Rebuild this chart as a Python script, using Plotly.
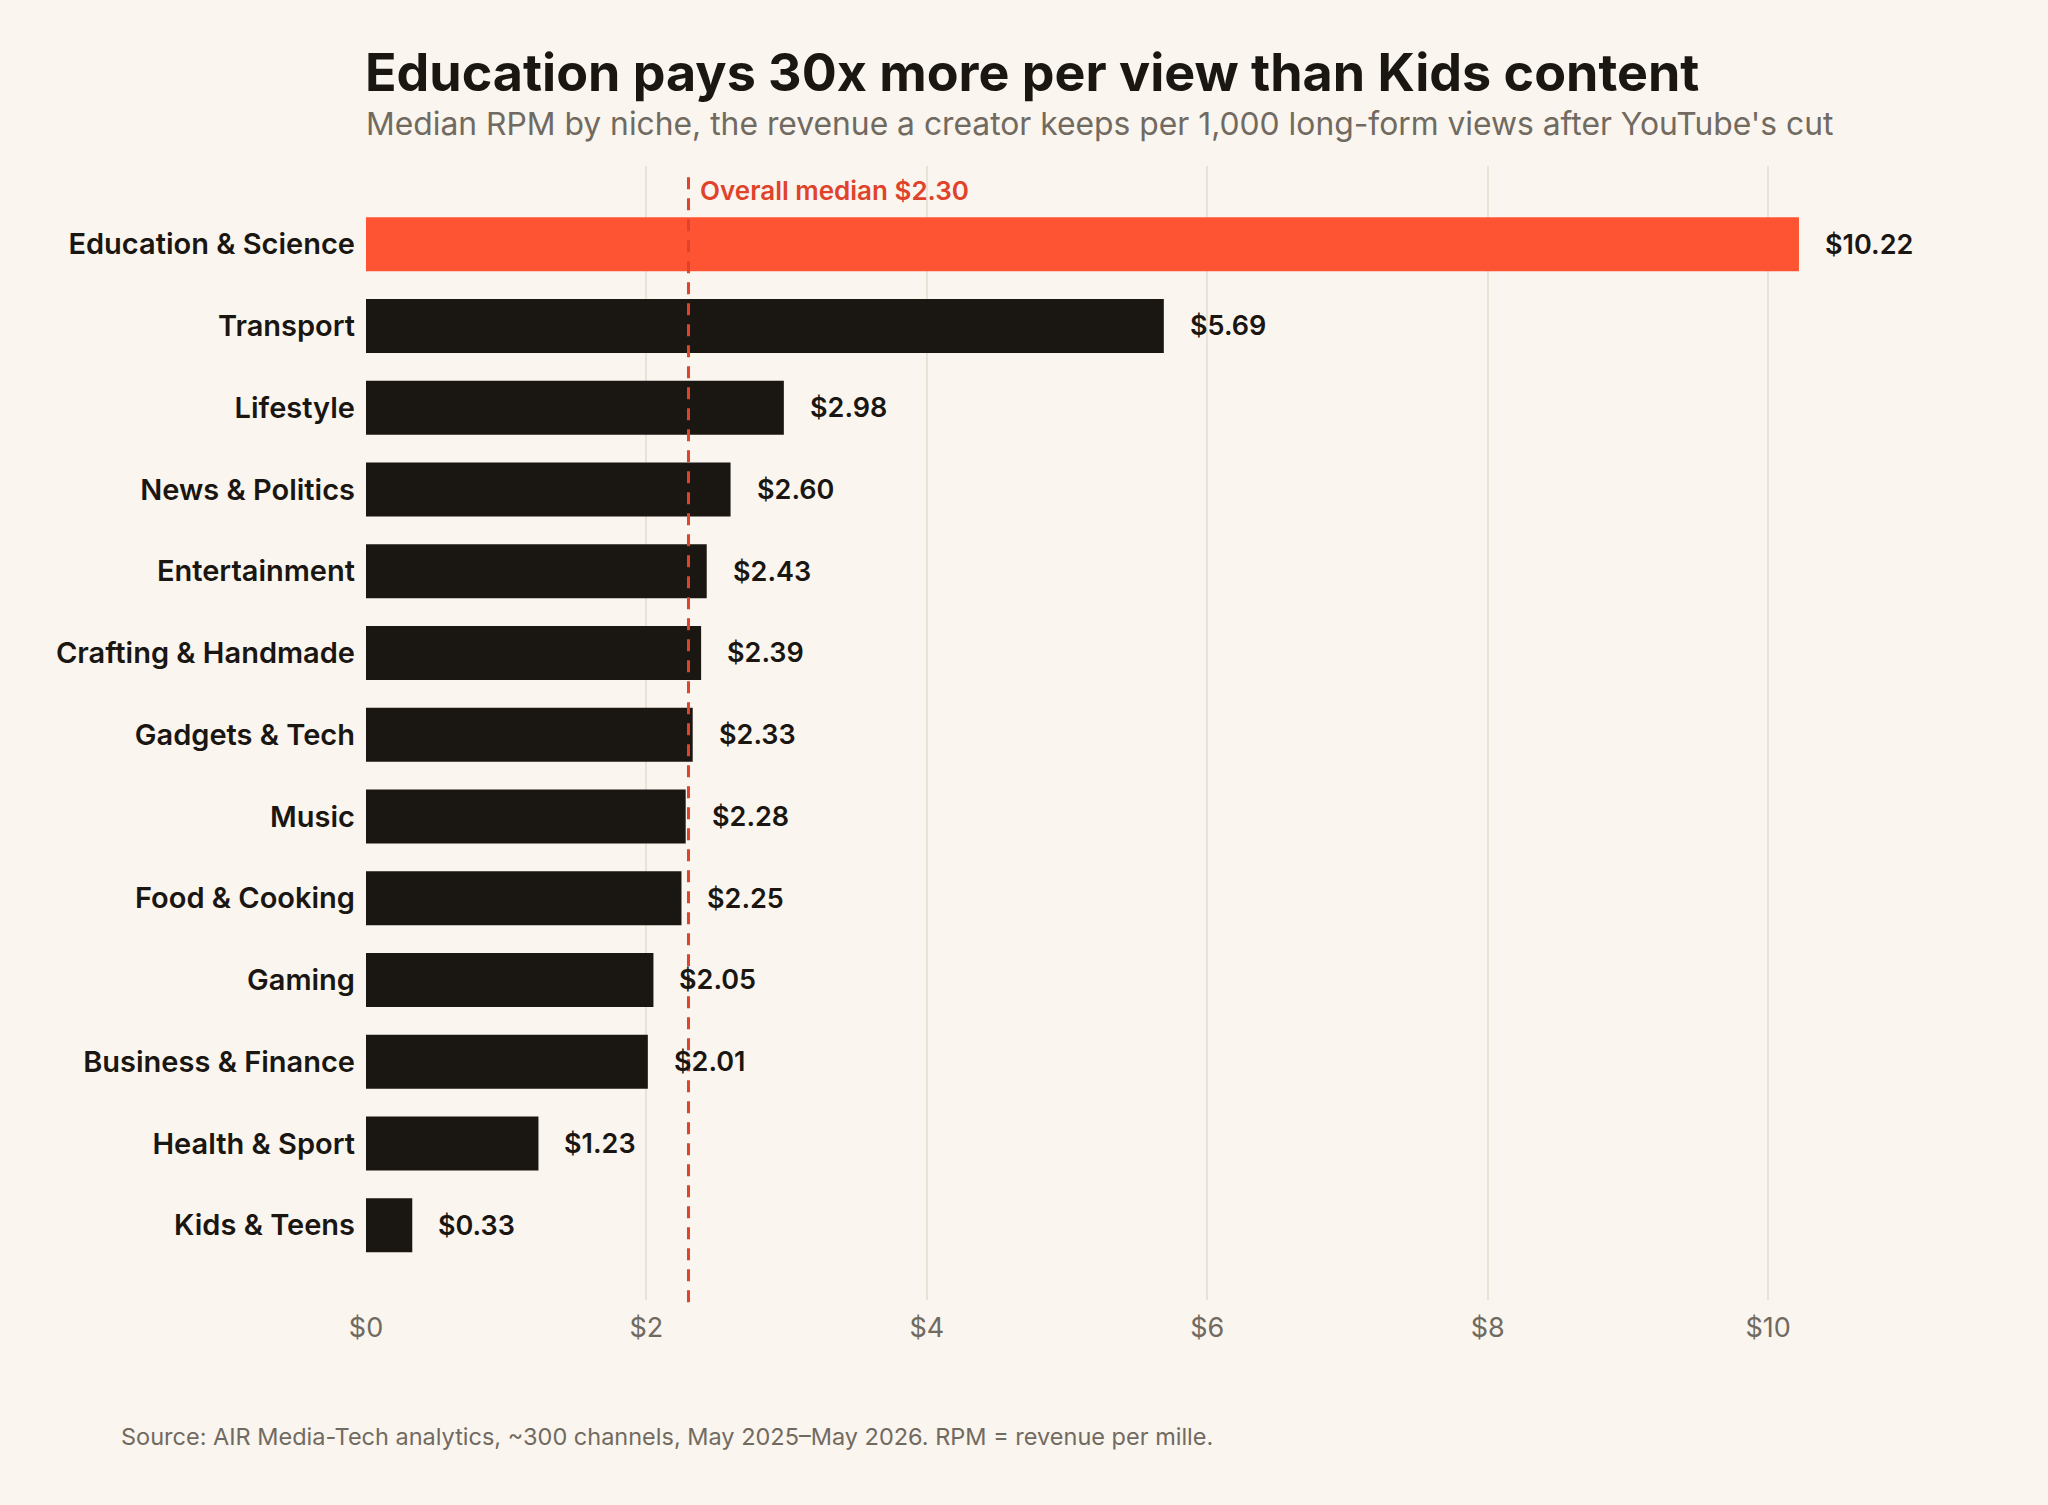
import plotly.graph_objects as go

categories = ["Education & Science", "Transport", "Lifestyle", "News & Politics", "Entertainment",
              "Crafting & Handmade", "Gadgets & Tech", "Music", "Food & Cooking", "Gaming",
              "Business & Finance", "Health & Sport", "Kids & Teens"]
rpm = [10.22, 5.69, 2.98, 2.60, 2.43, 2.39, 2.33, 2.28, 2.25, 2.05, 2.01, 1.23, 0.33]
median_rpm = 2.30
tick_vals = [0, 2, 4, 6, 8, 10]
tick_text = ["$0", "$2", "$4", "$6", "$8", "$10"]

title = "Education pays 30x more per view than Kids content"
subtitle = "Median RPM by niche, the revenue a creator keeps per 1,000 long-form views after YouTube's cut"
source = "Source: AIR Media-Tech analytics, ~300 channels, May 2025\u2013May 2026. RPM = revenue per mille."

BG = "#faf5ee"
HI = "#ff5433"
DARK = "#1a1612"
GRID = "#e9e2d6"
GREY = "#716a61"
RED = "#e0432b"

colors = [HI if i == 0 else DARK for i in range(len(categories))]

H, W = 1505, 2048
mt, mb, ml, mr = 166, 205, 366, 106
ph = H - mt - mb
pw = W - ml - mr
def py(y_px):
    return (H - mb - y_px) / ph
def px(x_px):
    return (x_px - ml) / pw

fig = go.Figure()
fig.add_trace(go.Bar(
    x=rpm, y=categories, orientation="h",
    marker=dict(color=colors, line=dict(width=0)),
    width=0.66, hoverinfo="skip",
))

for c, v in zip(categories, rpm):
    fig.add_annotation(x=v, y=c, xref="x", yref="y", text=f"${v:.2f}", showarrow=False,
                       xanchor="left", xshift=24,
                       font=dict(family="Inter", size=27, color=DARK, weight=600))

fig.add_shape(type="line", xref="x", yref="paper", x0=median_rpm, x1=median_rpm, y0=-0.002, y1=0.993,
              line=dict(color=RED, width=3, dash="12px,9px"))
fig.add_annotation(x=median_rpm, y=py(190), xref="x", yref="paper", text=f"Overall median ${median_rpm:.2f}",
                   showarrow=False, xanchor="left", yanchor="middle", xshift=10,
                   font=dict(family="Inter", size=26, color=RED, weight=600))

fig.add_annotation(x=px(363), y=py(72.5), xref="paper", yref="paper", text=f"<b>{title}</b>", showarrow=False,
                   xanchor="left", yanchor="middle", font=dict(family="Inter", size=52, color=DARK))
fig.add_annotation(x=px(364), y=py(123.5), xref="paper", yref="paper", text=subtitle, showarrow=False,
                   xanchor="left", yanchor="middle", font=dict(family="Inter", size=31.8, color=GREY))
fig.add_annotation(x=px(119), y=py(1436), xref="paper", yref="paper", text=source, showarrow=False,
                   xanchor="left", yanchor="middle", font=dict(family="Inter", size=23.5, color=GREY))

fig.update_layout(
    width=W, height=H,
    paper_bgcolor=BG, plot_bgcolor=BG,
    margin=dict(l=ml, r=mr, t=mt, b=mb, pad=0),
    showlegend=False,
    bargap=0.34,
    xaxis=dict(range=[0, 11.24], tickvals=tick_vals, ticktext=tick_text, showgrid=True,
               gridcolor=GRID, gridwidth=2, zeroline=False, showline=False, ticks="",
               tickfont=dict(family="Inter", size=27, color=GREY), ticklabelstandoff=9, fixedrange=True),
    yaxis=dict(categoryorder="array", categoryarray=categories, autorange=False,
               range=[len(categories) - 1 + 0.914, -0.956], showgrid=False, zeroline=False,
               showline=False, ticks="", ticklabelstandoff=10,
               tickfont=dict(family="Inter", size=29, color=DARK, weight=600)),
)

fig.write_html("out.html")
